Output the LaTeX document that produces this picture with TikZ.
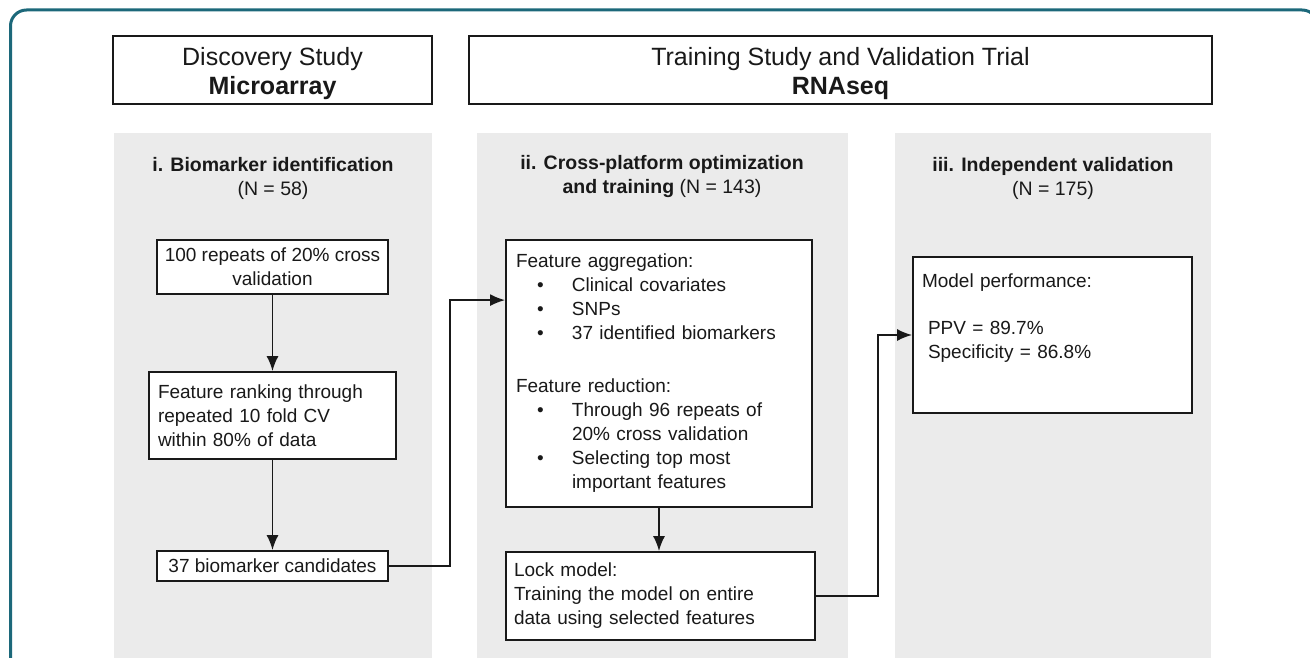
\documentclass[tikz,border=0pt]{standalone}
\usepackage{fontspec}
\setmainfont{Liberation Sans}
\usetikzlibrary{arrows.meta}
\definecolor{frameteal}{RGB}{28,104,122}
\definecolor{panelgray}{RGB}{235,235,235}
\definecolor{ink}{RGB}{25,25,25}
\newcommand{\bul}[1]{\hspace*{21pt}\makebox[35pt][l]{•}#1}

\begin{document}
\begin{tikzpicture}[x=1pt,y=-1pt,
  hdr/.style={draw=ink,text=ink,line width=2.8pt,fill=white,align=center,
    inner sep=0pt,font=\fontsize{25}{29}\selectfont},
  stepbox/.style={draw=ink,text=ink,line width=1.8pt,fill=white,inner sep=0pt,
    font=\fontsize{19}{24}\selectfont},
  ttl/.style={align=center,text=ink,font=\fontsize{19.5}{24}\selectfont},
  arr/.style={-{Latex[length=15pt,width=12pt]},line width=1.8pt,draw=ink}]
\useasboundingbox (0,0) rectangle (1310,658);
\draw[frameteal,line width=3pt,rounded corners=16pt]
    (10.5,680)--(10.5,10)--(1318,10)--(1318,680);
% headers
\node[hdr,minimum width=319pt,minimum height=68pt] (disc) at (272.5,70)
    {\rule{0pt}{26pt}Discovery Study\\\textbf{Microarray}};
\node[hdr,minimum width=743pt,minimum height=68pt] (rnaseq) at (840.5,70)
    {\rule{0pt}{26pt}Training Study and Validation Trial\\\textbf{RNAseq}};
% panels
\fill[panelgray] (114,133) rectangle (432,658);
\fill[panelgray] (477,133) rectangle (848,658);
\fill[panelgray] (895,133) rectangle (1211,658);
\node[ttl] (t1) at (273,178) {\textbf{i. Biomarker identification}\\(N = 58)};
\node[ttl] (t2) at (662,177)
    {\textbf{ii. Cross-platform optimization}\\\textbf{and training} (N = 143)};
\node[ttl] (t3) at (1053,178) {\textbf{iii. Independent validation}\\(N = 175)};
% i.
\node[stepbox,align=center,minimum width=231pt,minimum height=54pt] (rep) at (272.5,267)
    {100 repeats of 20\% cross\\validation};
\node[stepbox,align=left,text width=229pt,inner xsep=9pt,minimum height=87pt] (rank)
    at (272.5,415.5) {Feature ranking through\\repeated 10 fold CV\\within 80\% of data};
\node[stepbox,minimum width=231pt,minimum height=30pt] (cand) at (272.5,566)
    {37 biomarker candidates};
% ii.
\node[stepbox,align=left,text width=286pt,inner xsep=10pt,minimum height=267pt] (agg)
    at (659,373.5) {Feature aggregation:\\
    \bul{Clinical covariates}\\
    \bul{SNPs}\\
    \bul{37 identified biomarkers}\\[29pt]
    Feature reduction:\\
    \bul{Through 96 repeats of}\\
    \hspace*{56pt}20\% cross validation\\
    \bul{Selecting top most}\\
    \hspace*{56pt}important features};
\node[stepbox,align=left,text width=293pt,inner xsep=8pt,minimum height=88pt] (lock)
    at (660.5,596) {Lock model:\\Training the model on entire\\data using selected features};
% iii.
\node[stepbox,align=left,text width=261pt,inner xsep=9pt,minimum height=156pt] (perf)
    at (1052.5,335) {Model performance:\\[23pt]
    \hspace*{6pt}PPV = 89.7\%\\
    \hspace*{6pt}Specificity = 86.8\%\\[14pt]\mbox{}};
% arrows
\draw[arr] (rep) -- (rank);
\draw[arr] (rank) -- (cand);
\draw[arr] (cand.east) -- ++(61,0) |- ([yshift=-61pt]agg.north west);
\draw[arr] (agg.south) -- (agg.south |- lock.north);
\draw[arr] (lock.east) -- ++(62,0) |- (perf.west);
\end{tikzpicture}
\end{document}
